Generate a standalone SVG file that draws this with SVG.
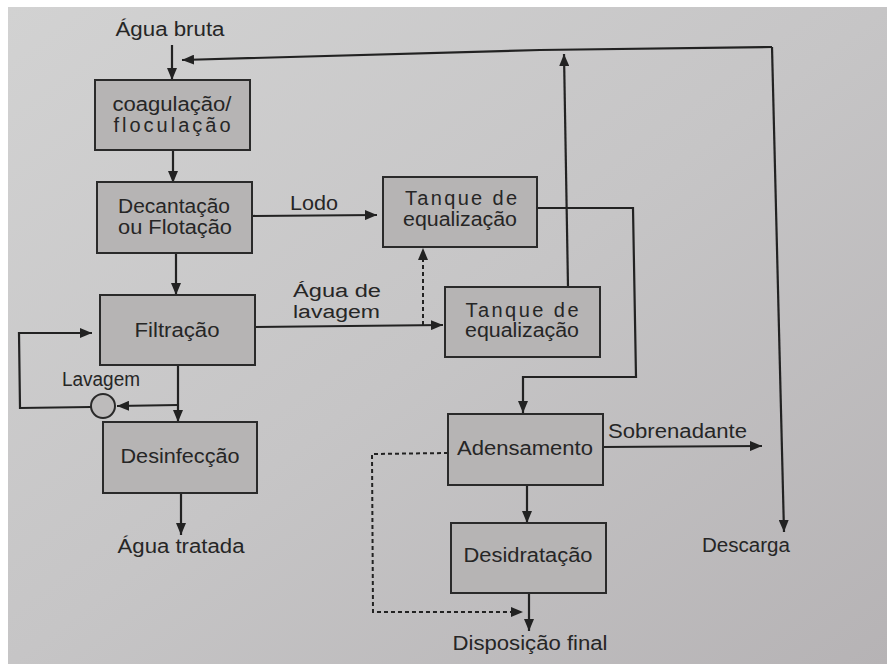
<svg xmlns="http://www.w3.org/2000/svg" width="887" height="664" viewBox="0 0 887 664">
  <defs>
    <linearGradient id="paper" x1="0" y1="0" x2="1" y2="1">
      <stop offset="0" stop-color="#d2d2d2"/>
      <stop offset="0.5" stop-color="#c6c5c6"/>
      <stop offset="1" stop-color="#b6b3b5"/>
    </linearGradient>
    <marker id="arrow" viewBox="0 0 12 10" refX="12" refY="5" markerWidth="12" markerHeight="10" markerUnits="userSpaceOnUse" orient="auto">
      <path d="M0,0 L12,5 L0,10 Z" fill="#222"/>
    </marker>
    <style>
      .box { fill: #b6b4b4; stroke: #2a2a2a; stroke-width: 2; }
      .line { fill: none; stroke: #222; stroke-width: 2.2; }
      .dash { fill: none; stroke: #222; stroke-width: 2; stroke-dasharray: 4 3; }
      text { font-family: "Liberation Sans", Arial, sans-serif; font-size: 20px; fill: #262626; text-anchor: middle; }
      .left { text-anchor: start; }
      .small { font-size: 18px; }
    </style>
  </defs>

  <!-- page -->
  <rect x="0" y="0" width="887" height="664" fill="#ffffff"/>
  <rect x="8" y="7" width="879" height="657" fill="url(#paper)"/>

  <!-- connectors -->
  <g id="connectors">
    <!-- raw water in -->
    <line class="line" x1="172" y1="45" x2="172" y2="80" marker-end="url(#arrow)"/>
    <!-- return line along the top -->
    <polyline class="line" points="772,47 540,50 182,60" marker-end="url(#arrow)"/>
    <!-- discharge on the right -->
    <polyline class="line" points="772,47 784,532" marker-end="url(#arrow)"/>
    <!-- coagulation to settling -->
    <line class="line" x1="173" y1="150" x2="173" y2="183" marker-end="url(#arrow)"/>
    <!-- settling to filtration -->
    <line class="line" x1="176" y1="253" x2="176" y2="295" marker-end="url(#arrow)"/>
    <!-- sludge to equalization tank -->
    <line class="line" x1="252" y1="216" x2="377" y2="215" marker-end="url(#arrow)"/>
    <!-- wash water to second tank -->
    <line class="line" x1="255" y1="327" x2="443" y2="325" marker-end="url(#arrow)"/>
    <!-- dotted branch up to first tank -->
    <line class="dash" x1="423" y1="325" x2="423" y2="248" marker-end="url(#arrow)"/>
    <!-- second tank back to the top line -->
    <line class="line" x1="568" y1="287" x2="564" y2="54" marker-end="url(#arrow)"/>
    <!-- first tank to thickening -->
    <polyline class="line" points="537,208 633,208 636,377 523,377 523,413" marker-end="url(#arrow)"/>
    <!-- filtration to disinfection -->
    <line class="line" x1="178" y1="365" x2="178" y2="422" marker-end="url(#arrow)"/>
    <!-- backwash branch -->
    <line class="line" x1="178" y1="405" x2="117" y2="406" marker-end="url(#arrow)"/>
    <polyline class="line" points="91,407 20,408 19,333 92,333" marker-end="url(#arrow)"/>
    <!-- disinfection to treated water -->
    <line class="line" x1="181" y1="493" x2="181" y2="535" marker-end="url(#arrow)"/>
    <!-- supernatant -->
    <line class="line" x1="603" y1="447" x2="762" y2="446" marker-end="url(#arrow)"/>
    <!-- thickening to dewatering -->
    <line class="line" x1="527" y1="485" x2="527" y2="523" marker-end="url(#arrow)"/>
    <!-- dewatering to final disposal -->
    <line class="line" x1="529" y1="593" x2="529" y2="631" marker-end="url(#arrow)"/>
    <!-- dotted bypass from thickening -->
    <polyline class="dash" points="448,453 372,454 373,612 523,612" marker-end="url(#arrow)"/>
    <!-- pump -->
    <circle cx="103" cy="406" r="12" fill="#bdbbbb" stroke="#2a2a2a" stroke-width="2"/>
  </g>

  <!-- free labels -->
  <text x="170" y="36" textLength="109" lengthAdjust="spacingAndGlyphs">Água bruta</text>
  <text class="left" x="290" y="210" textLength="48" lengthAdjust="spacingAndGlyphs">Lodo</text>
  <text class="left small" x="293" y="297" textLength="88" lengthAdjust="spacingAndGlyphs">Água de</text>
  <text class="left small" x="293" y="318" textLength="87" lengthAdjust="spacingAndGlyphs">lavagem</text>
  <text class="left" x="62" y="386" textLength="78" lengthAdjust="spacingAndGlyphs">Lavagem</text>
  <text x="181" y="553" textLength="127" lengthAdjust="spacingAndGlyphs">Água tratada</text>
  <text class="left" x="608" y="438" textLength="139" lengthAdjust="spacingAndGlyphs">Sobrenadante</text>
  <text x="746" y="552" textLength="88" lengthAdjust="spacingAndGlyphs">Descarga</text>
  <text x="530" y="650" textLength="155" lengthAdjust="spacingAndGlyphs">Disposição final</text>

  <g id="coagulacao">
    <rect class="box" x="95" y="80" width="155" height="70"/>
    <text x="172" y="111" textLength="119" lengthAdjust="spacingAndGlyphs">coagulação/</text>
    <text x="172" y="132" textLength="117" lengthAdjust="spacing">floculação</text>
  </g>

  <g id="decantacao">
    <rect class="box" x="97" y="182" width="155" height="71"/>
    <text x="174" y="213" textLength="112" lengthAdjust="spacingAndGlyphs">Decantação</text>
    <text x="175" y="234" textLength="114" lengthAdjust="spacingAndGlyphs">ou Flotação</text>
  </g>

  <g id="filtracao">
    <rect class="box" x="100" y="295" width="155" height="70"/>
    <text x="177" y="337" textLength="85" lengthAdjust="spacingAndGlyphs">Filtração</text>
  </g>

  <g id="desinfeccao">
    <rect class="box" x="103" y="422" width="154" height="71"/>
    <text x="180" y="463" textLength="119" lengthAdjust="spacingAndGlyphs">Desinfecção</text>
  </g>

  <g id="tanque1">
    <rect class="box" x="383" y="177" width="154" height="70"/>
    <text x="461" y="205" textLength="112" lengthAdjust="spacing">Tanque de</text>
    <text x="460" y="226" textLength="114" lengthAdjust="spacingAndGlyphs">equalização</text>
  </g>

  <g id="tanque2">
    <rect class="box" x="445" y="287" width="155" height="70"/>
    <text x="522" y="317" textLength="113" lengthAdjust="spacing">Tanque de</text>
    <text x="522" y="337" textLength="114" lengthAdjust="spacingAndGlyphs">equalização</text>
  </g>

  <g id="adensamento">
    <rect class="box" x="448" y="414" width="155" height="71"/>
    <text x="525" y="455" textLength="136" lengthAdjust="spacingAndGlyphs">Adensamento</text>
  </g>

  <g id="desidratacao">
    <rect class="box" x="451" y="523" width="155" height="70"/>
    <text x="528" y="562" textLength="129" lengthAdjust="spacingAndGlyphs">Desidratação</text>
  </g>
</svg>
